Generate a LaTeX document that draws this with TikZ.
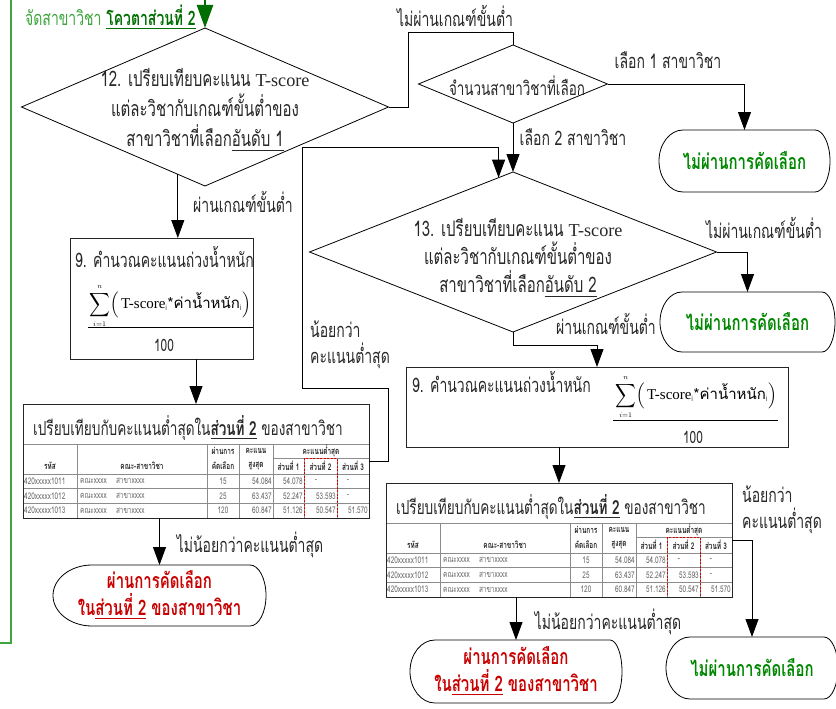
\documentclass[tikz,border=0pt]{standalone}
\usepackage{fontspec}
\usepackage{amsmath}
\usepackage{graphicx}
\setmainfont{Loma}[Script=Thai, FakeStretch=0.7]
\newfontfamily\thnorm{Loma}[Script=Thai]
\newfontfamily\latfont{Liberation Serif}[Scale=0.85]
\newfontfamily\latnorm{Liberation Serif}
\usetikzlibrary{arrows.meta,shapes.geometric}
\definecolor{tgreen}{RGB}{0,135,0}
\definecolor{lgreen}{RGB}{60,165,60}
\definecolor{dgreen}{RGB}{0,110,0}
\definecolor{tred}{RGB}{200,0,0}
\definecolor{txt}{RGB}{40,40,40}

\newcommand\termdraw[4]{%
 \draw[termline] ([xshift=#2pt]#1.north west) -- ([xshift=-#3pt]#1.north east)
 .. controls ([xshift=-0.448*#3pt]#1.north east) and ([yshift=#4pt]#1.east) .. (#1.east)
 .. controls ([yshift=-#4pt]#1.east) and ([xshift=-0.448*#3pt]#1.south east) .. ([xshift=-#3pt]#1.south east)
 -- ([xshift=#2pt]#1.south west)
 .. controls ([xshift=0.448*#2pt]#1.south west) and ([yshift=-#4pt]#1.west) .. (#1.west)
 .. controls ([yshift=#4pt]#1.west) and ([xshift=0.448*#2pt]#1.north west) .. cycle;}

\newcommand\wsum{$\mathop{\scalebox{1}[1.15]{$\displaystyle\sum$}}\limits_{\scriptscriptstyle i=1}^{\scriptscriptstyle n}\Bigl(\,\text{\latnorm T-score}_{\scriptscriptstyle\mathrm{i}}\text{\thnorm *ค่าน้ำหนัก}_{\scriptscriptstyle\mathrm{i}}\Bigr)$}

\newcommand\scoretable[2]{%
\begin{scope}[shift={#2}]
\node[tabtitle, anchor=west] (#1title) at (10,24) {เปรียบเทียบกับคะแนนต่ำสุดใน\underline{\textbf{ส่วนที่ 2}} ของสาขาวิชา};
\draw[gridline] (0,40) -- (346,40) (0,70) -- (346,70) (0,84.7) -- (346,84.7) (0,99.3) -- (346,99.3) (250,54) -- (346,54);
\draw[gridline] (54,40) -- (54,114) (184,40) -- (184,114) (216,40) -- (216,114) (250,40) -- (250,114) (281,54) -- (281,114) (314,54) -- (314,114);
\node[thead] (#1h1) at (27,62) {รหัส};
\node[thead] (#1h2) at (119,62) {คณะ-สาขาวิชา};
\node[thead] (#1h3) at (200,47) {ผ่านการ};
\node[thead] (#1h4) at (200,62) {คัดเลือก};
\node[thead] (#1h5) at (233,47) {คะแนน};
\node[thead] (#1h6) at (233,62) {สูงสุด};
\node[thead] (#1h7) at (298,47) {คะแนนต่ำสุด};
\node[thead] (#1h8) at (265.5,62) {ส่วนที่ 1};
\node[thead] (#1h9) at (297.5,62) {ส่วนที่ 2};
\node[thead] (#1h10) at (330,62) {ส่วนที่ 3};
\node[tcell, anchor=west] (#1a1) at (1,77.3) {420xxxxx1011};
\node[tcell, anchor=west] (#1b1) at (57,77.3) {คณะxxxx\quad สาขาxxxx};
\node[tcell] (#1c1) at (200,77.3) {15};
\node[tcell, anchor=east] (#1d1) at (249,77.3) {54.084};
\node[tcell, anchor=east] (#1e1) at (280,77.3) {54.078};
\node[tcell] (#1f1) at (293,77.3) {-};
\node[tcell] (#1g1) at (325,77.3) {-};
\node[tcell, anchor=west] (#1a2) at (1,92) {420xxxxx1012};
\node[tcell, anchor=west] (#1b2) at (57,92) {คณะxxxx\quad สาขาxxxx};
\node[tcell] (#1c2) at (200,92) {25};
\node[tcell, anchor=east] (#1d2) at (249,92) {63.437};
\node[tcell, anchor=east] (#1e2) at (280,92) {52.247};
\node[tcell, anchor=east] (#1f2) at (313,92) {53.593};
\node[tcell] (#1g2) at (325,92) {-};
\node[tcell, anchor=west] (#1a3) at (1,106.7) {420xxxxx1013};
\node[tcell, anchor=west] (#1b3) at (57,106.7) {คณะxxxx\quad สาขาxxxx};
\node[tcell] (#1c3) at (200,106.7) {120};
\node[tcell, anchor=east] (#1d3) at (249,106.7) {60.847};
\node[tcell, anchor=east] (#1e3) at (280,106.7) {51.126};
\node[tcell, anchor=east] (#1f3) at (313,106.7) {50.547};
\node[tcell, anchor=east] (#1g3) at (345,106.7) {51.570};
\draw[reddash] (281,54) rectangle (314,114);
\end{scope}}

\begin{document}
\begin{tikzpicture}[x=1pt,y=-1pt,
  lbl/.style={font=\fontsize{20}{26}\selectfont, text=txt, inner sep=0, align=left},
  dtext/.style={font=\fontsize{21.4}{30}\selectfont, text=txt, align=center, inner sep=0},
  dia/.style={diamond, draw=black, line width=0.8pt, inner sep=0, outer sep=0},
  conn/.style={draw=black, line width=0.9pt},
  arr/.style={conn, -{Triangle[length=18pt, width=13pt]}},
  gline/.style={draw=lgreen, line width=1.8pt},
  garr/.style={draw=dgreen, line width=2.5pt, -{Triangle[length=23pt, width=16pt]}},
  termbox/.style={rectangle, inner sep=0, outer sep=0, align=center, font=\fontsize{21.4}{27}\selectfont\bfseries},
  termline/.style={draw=black, line width=0.8pt},
  procbox/.style={rectangle, draw=black!85, line width=0.9pt, inner sep=0, outer sep=0},
  tabbox/.style={rectangle, draw=black!85, line width=1pt, inner sep=0, outer sep=0},
  tabtitle/.style={font=\fontsize{19.4}{22}\selectfont, text=txt, inner sep=0},
  gridline/.style={draw=black!45, line width=0.5pt},
  thead/.style={font=\fontsize{9.2}{10}\selectfont\bfseries, text=black!85, inner sep=0},
  tcell/.style={font=\fontsize{9.2}{10}\selectfont, text=black!60, inner sep=0},
  reddash/.style={draw=red!85!black, line width=1pt, dash pattern=on 2pt off 1.5pt},
  formula/.style={font=\fontsize{15}{18}\selectfont, text=black, inner sep=0},
  fracbar/.style={draw=black, line width=0.7pt}]
\useasboundingbox (0,0) rectangle (836,709);

% green frame and entry arrow
\draw[gline] (11,0) -- (11,643) -- (0,643);
\node[lbl, anchor=west] (gtitle) at (25,17) {{\color{lgreen}จัดสาขาวิชา} {\color{dgreen}\bfseries\underline{โควตาส่วนที่ 2}}};
\coordinate (gtop) at (205,0);

% diamonds
\node[dia, minimum width=367pt, minimum height=158pt] (d12) at (205,107) {};
\node[dtext] (d12t) at (205,110) {12. เปรียบเทียบคะแนน {\latfont T-score}\\แต่ละวิชากับเกณฑ์ขั้นต่ำของ\\สาขาวิชาที่เลือก\underline{อันดับ 1}};
\draw[garr] (gtop) -- (d12.north);

\node[dia, minimum width=189pt, minimum height=78pt] (d0) at (513,84) {};
\node[dtext, font=\fontsize{19.2}{22}\selectfont] (d0t) at (517,86) {จำนวนสาขาวิชาที่เลือก};

\node[dia, minimum width=407pt, minimum height=160pt] (d13) at (513,252) {};
\node[dtext, font=\fontsize{21.4}{28}\selectfont] (d13t) at (518,258) {13. เปรียบเทียบคะแนน {\latfont T-score}\\แต่ละวิชากับเกณฑ์ขั้นต่ำของ\\สาขาวิชาที่เลือก\underline{อันดับ 2}};

% process boxes
\node[procbox, minimum width=183pt, minimum height=121pt] (b9a) at (161.5,298.5) {};
\node[lbl, anchor=west] (b9at) at (75,257) {9. คำนวณคะแนนถ่วงน้ำหนัก};
\node[formula] (b9an) at (170,306) {\wsum};
\draw[fracbar] (88,327) -- (253,327);
\node[lbl, font=\fontsize{17}{19}\selectfont] (b9ad) at (164,345) {100};

\node[procbox, minimum width=382pt, minimum height=80pt] (b9b) at (597,407) {};
\node[lbl, anchor=west] (b9bt) at (412,382) {9. คำนวณคะแนนถ่วงน้ำหนัก};
\node[formula] (b9bn) at (696,397) {\wsum};
\draw[fracbar] (613,420) -- (778,420);
\node[lbl, font=\fontsize{17}{19}\selectfont] (b9bd) at (693,437) {100};

% tables
\scoretable{ta}{(23,404)}
\node[tabbox, minimum width=346pt, minimum height=114pt] (tab1) at (196,461) {};
\scoretable{tb}{(386,483)}
\node[tabbox, minimum width=346pt, minimum height=114pt] (tab2) at (559,540) {};

% terminators
\node[termbox, minimum width=171pt, minimum height=62pt, text=tgreen] (T1) at (744.5,161) {ไม่ผ่านการคัดเลือก};
\termdraw{T1}{24}{15}{17}
\node[termbox, minimum width=175pt, minimum height=60pt, text=tgreen] (T2) at (747.5,322) {ไม่ผ่านการคัดเลือก};
\termdraw{T2}{22}{13}{16.5}
\node[termbox, minimum width=213pt, minimum height=61pt, text=tred] (T3) at (159.5,595.5) {ผ่านการคัดเลือก\\ใน\underline{ส่วนที่ 2} ของสาขาวิชา};
\termdraw{T3}{39}{16}{16.8}
\node[termbox, minimum width=212pt, minimum height=63pt, text=tred] (T4) at (516,671.5) {ผ่านการคัดเลือก\\ใน\underline{ส่วนที่ 2} ของสาขาวิชา};
\termdraw{T4}{25}{12}{17.4}
\node[termbox, minimum width=172pt, minimum height=62pt, text=tgreen] (T5) at (752,668) {ไม่ผ่านการคัดเลือก};
\termdraw{T5}{24}{14}{17}

% connectors
\coordinate (c1) at (408,32);
\coordinate (lp1) at (388,388);
\coordinate (lp2) at (302,147);
\draw[conn] (d12.east) -| (c1) -| (d0.north);
\draw[arr] (d0.east) -| (T1.north);
\draw[arr] (d0.south) -- (d13.north);
\draw[arr] (d12.-112) -- (d12.-112 |- b9a.north);
\draw[arr] (b9a.south -| tab1.north) -- (tab1.north);
\draw[arr] (tab1.south -| T3.north) -- (T3.north);
\draw[arr] (tab1.east) -| (lp1) -| (lp2) -| (d13.101);
\draw[arr] (d13.east) -| (T2.north);
\draw[arr] (d13.south) -- ++(0,13) -| (b9b.north);
\draw[arr] (b9b.south -| tab2.north) -- (tab2.north);
\draw[arr] (tab2.south -| T4.north) -- (T4.north);
\draw[arr] (tab2.east) -| (T5.north);

% labels
\node[lbl] (L1) at (455,16) {ไม่ผ่านเกณฑ์ขั้นต่ำ};
\node[lbl] (L2) at (668,60) {เลือก 1 สาขาวิชา};
\node[lbl] (L3) at (573,137) {เลือก 2 สาขาวิชา};
\node[lbl] (L4) at (243,202) {ผ่านเกณฑ์ขั้นต่ำ};
\node[lbl] (L5) at (764,228) {ไม่ผ่านเกณฑ์ขั้นต่ำ};
\node[lbl] (L6) at (606,324) {ผ่านเกณฑ์ขั้นต่ำ};
\node[lbl, anchor=west] (L7) at (310,345) {น้อยกว่า\\คะแนนต่ำสุด};
\node[lbl] (L8) at (250,545) {ไม่น้อยกว่าคะแนนต่ำสุด};
\node[lbl, anchor=west] (L9) at (742,510) {น้อยกว่า\\คะแนนต่ำสุด};
\node[lbl] (L10) at (608,622) {ไม่น้อยกว่าคะแนนต่ำสุด};
\end{tikzpicture}
\end{document}
